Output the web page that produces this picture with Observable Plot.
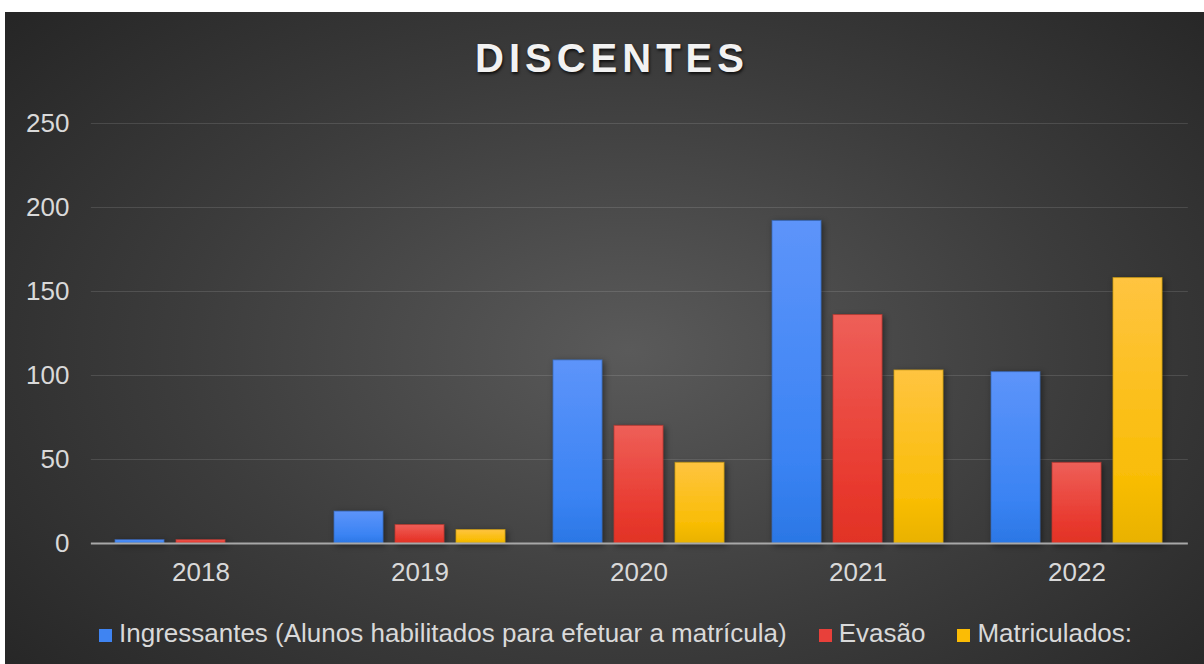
<!DOCTYPE html>
<html>
<head>
<meta charset="utf-8">
<script src="https://cdn.jsdelivr.net/npm/d3@7"></script>
<script src="https://cdn.jsdelivr.net/npm/@observablehq/plot@0.6"></script>
<style>
  html, body { margin: 0; padding: 0; background: #ffffff; }
  #chart {
    position: absolute; left: 5px; top: 12px; width: 1199px; height: 652px;
    background: radial-gradient(ellipse 68% 78% at 52% 52%, #5a5a5a 0%, #3c3c3c 55%, #262626 100%);
    font-family: "Liberation Sans", Arial, sans-serif;
    overflow: hidden;
  }
  #title {
    height: 100px; line-height: 92px; text-align: center; padding-left: 15px;
    font-size: 40px; font-weight: bold; letter-spacing: 5px; color: #f2f2f2;
    text-shadow: 1px 2px 3px rgba(0,0,0,0.75);
  }
  #plot svg { display: block; }
  #legend {
    height: 62px; display: flex; align-items: center; padding-left: 94px;
    font-size: 26px; color: #d9d9d9; line-height: 60px;
  }
  .item { display: flex; align-items: center; margin-right: 32px; }
  .sw { width: 13px; height: 13px; margin-right: 7px; margin-top: 4px; }
</style>
</head>
<body>
<div id="chart">
  <div id="title">DISCENTES</div>
  <div id="plot"></div>
  <div id="legend"></div>
</div>
<script>
const years = ["2018", "2019", "2020", "2021", "2022"];
const seriesNames = ["Ingressantes (Alunos habilitados para efetuar a matrícula)", "Evasão", "Matriculados:"];
const ingressantes = [2, 19, 109, 192, 102];
const evasao = [2, 11, 70, 136, 48];
const matriculados = [0, 8, 48, 103, 158];
const yTicks = [0, 50, 100, 150, 200, 250];
const seriesColors = ["#3f84f2", "#e8403a", "#fbbc05"];

const seriesValues = [ingressantes, evasao, matriculados];
const data = [];
years.forEach((yr, i) => {
  seriesNames.forEach((s, j) => data.push({year: yr, series: s, value: seriesValues[j][i], k: j}));
});

const gradIds = ["gBlue", "gRed", "gYellow"];
const strokes = ["#3566b8", "#b8352d", "#c99a10"];

const W = 1199, ML = 85, MR = 17;
const innerW = W - ML - MR;
const PI = 0.22, PO = 0.11;
// the y axis is drawn at the left edge of the first facet; shift it back to the frame's left edge
const facetStep = innerW / (years.length - PI + 2 * PO);
const shift = PO * facetStep;

const barMarks = seriesNames.map((s, j) =>
  Plot.barY(data.filter(d => d.k === j), {
    fx: "year", x: "series", y: "value",
    fill: `url(#${gradIds[j]})`, stroke: strokes[j], strokeWidth: 1, strokeOpacity: 0.7
  })
);

const chart = Plot.plot({
  width: W,
  height: 490,
  marginLeft: ML,
  marginRight: MR,
  marginTop: 11,
  marginBottom: 59,
  style: {fontSize: "26px", fontFamily: "'Liberation Sans', Arial, sans-serif", color: "#d9d9d9", background: "transparent", overflow: "visible"},
  fx: {domain: years, paddingInner: PI, paddingOuter: PO, label: null, tickSize: 0, tickPadding: 19, axis: "bottom"},
  x: {domain: seriesNames, paddingInner: 0.2, paddingOuter: 0, axis: null},
  y: {domain: [0, 250], ticks: yTicks, label: null, axis: null},
  marks: [
    Plot.axisY(yTicks.filter(t => t > 0), {anchor: "left", tickSize: -innerW, dx: -shift, tickFormat: () => "", stroke: "#ffffff", strokeOpacity: 0.12, label: null}),
    ...barMarks,
    Plot.axisY([0], {anchor: "left", tickSize: -innerW, dx: -shift, tickFormat: () => "", stroke: "#a8a8a8", strokeWidth: 2, label: null}),
    Plot.axisY(yTicks, {anchor: "left", tickSize: 0, tickPadding: 22, dx: -shift, label: null, fill: "#d9d9d9"})
  ]
});

// gradients + shadow
const svg = d3.select(chart);
const defs = svg.insert("defs", ":first-child");
const gradStops = [
  [["0%", "#5d94fa"], ["75%", "#3a83f3"], ["100%", "#2b77e5"]],
  [["0%", "#ee5f58"], ["75%", "#e8392e"], ["100%", "#e13326"]],
  [["0%", "#ffc440"], ["75%", "#f9bd06"], ["100%", "#e9b200"]]
];
gradIds.forEach((id, j) => {
  const g = defs.append("linearGradient").attr("id", id).attr("x1", 0).attr("y1", 0).attr("x2", 0).attr("y2", 1);
  gradStops[j].forEach(([o, c]) => g.append("stop").attr("offset", o).attr("stop-color", c));
});
const f = defs.append("filter").attr("id", "shadow").attr("x", "-30%").attr("y", "-30%").attr("width", "160%").attr("height", "160%");
f.append("feDropShadow").attr("dx", 2).attr("dy", 2).attr("stdDeviation", 3).attr("flood-color", "#000").attr("flood-opacity", 0.45);
svg.selectAll("g[aria-label='bar']").attr("filter", "url(#shadow)");

document.getElementById("plot").appendChild(chart);

// legend
const legend = document.getElementById("legend");
seriesNames.forEach((s, j) => {
  const item = document.createElement("div");
  item.className = "item";
  const sw = document.createElement("span");
  sw.className = "sw";
  sw.style.background = seriesColors[j];
  const t = document.createElement("span");
  t.textContent = s;
  item.appendChild(sw); item.appendChild(t);
  legend.appendChild(item);
});
</script>
</body>
</html>
